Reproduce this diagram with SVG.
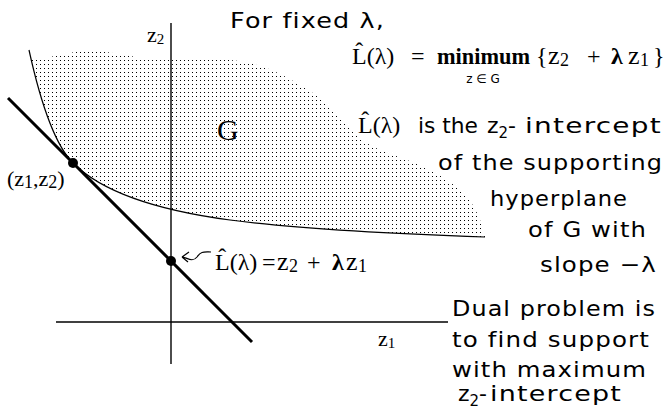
<svg xmlns="http://www.w3.org/2000/svg" width="669" height="410" viewBox="0 0 669 410">
<style>
.sans{font-family:"DejaVu Sans","Liberation Sans",sans-serif;font-size:22px;fill:#000;letter-spacing:1px}
.serif{font-family:"Liberation Serif","DejaVu Serif",serif;font-size:24px;fill:#000}
.sub{font-size:15px}
.ssub{font-size:18px}
.thin{fill:none;stroke:#000;stroke-width:1.2}
.axis{fill:none;stroke:#000;stroke-width:1.4}
.thick{fill:none;stroke:#000;stroke-width:3;stroke-linecap:butt}
</style>
<defs>
<pattern id="dots" patternUnits="userSpaceOnUse" width="4" height="4">
<rect x="0" y="0" width="1" height="1" fill="#000" shape-rendering="crispEdges"/>
</pattern>
</defs>
<rect width="669" height="410" fill="#fff"/>

<g id="region-G">
<path d="M29,50 C40,100 55,145 73,163 C95,185 140,208 230,220 C300,229 400,234 485,237 C482,222 475,205 465,195 C450,180 430,168 407,160 C385,152 365,145 355,134 C340,118 320,95 303,87 C280,72 260,63 230,60 L171,60 C150,59 140,58 125,55 C105,51 80,49 60,55 C45,58 35,60 29,56 Z" fill="url(#dots)"/>
<path class="thin" d="M29,50 C40,100 55,145 73,163 C95,185 140,208 230,220 C300,229 400,234 485,237"/>
<text class="serif" x="217" y="140" style="font-size:30px">G</text>
</g>

<g id="axis-z2">
<line class="axis" x1="171" y1="23" x2="171" y2="364"/>
<text class="serif" x="147" y="42" style="font-size:22px">z<tspan class="sub" dy="2">2</tspan></text>
</g>

<g id="axis-z1">
<line class="axis" x1="56" y1="322" x2="448" y2="322"/>
<text class="serif" x="378" y="346" style="font-size:22px">z<tspan class="sub" dy="2">1</tspan></text>
</g>

<g id="support-line">
<line class="thick" x1="8" y1="98" x2="252" y2="342"/>
</g>

<g id="point-tangent">
<circle cx="73" cy="163" r="5" fill="#000"/>
<text class="serif" x="7" y="186" style="font-size:22px">(z<tspan class="ssub" dy="2">1</tspan><tspan dy="-2">,z</tspan><tspan class="ssub" dy="2">2</tspan><tspan dy="-2">)</tspan></text>
</g>

<g id="point-intercept">
<circle cx="171" cy="261" r="5" fill="#000"/>
<text class="serif" y="270"><tspan x="215">L̂(λ)</tspan><tspan x="262">=</tspan><tspan x="277" style="font-size:26px">z</tspan><tspan class="ssub" x="289" dy="2">2</tspan><tspan x="307" dy="-2">+</tspan><tspan x="332" font-weight="bold">λ</tspan><tspan x="346" style="font-size:26px">z</tspan><tspan class="ssub" x="358" dy="2">1</tspan></text>
</g>

<g id="connectors">
<path class="thin" d="M182,257 L189,252 M182,257 L188,262 M183,257 C189,259 193,262 197,257 C201,251 204,252 211,252"/>
</g>

<g id="definition">
<text class="sans" x="230" y="28" textLength="155" lengthAdjust="spacingAndGlyphs">For fixed  λ,</text>
<text class="serif" y="64"><tspan x="352">L̂(λ)</tspan><tspan x="411">=</tspan></text>
<text class="serif" x="437" y="64" font-weight="bold" textLength="93" lengthAdjust="spacingAndGlyphs">minimum</text>
<text class="serif" y="64"><tspan x="536">{</tspan><tspan x="548" style="font-size:26px">z</tspan><tspan class="ssub" x="560" dy="2">2</tspan><tspan x="587" dy="-2">+</tspan><tspan x="611" font-weight="bold">λ</tspan><tspan x="628" style="font-size:26px">z</tspan><tspan class="ssub" x="640" dy="2">1</tspan><tspan x="653" dy="-2">}</tspan></text>
<text class="sans" x="483" y="83" text-anchor="middle" style="font-size:12px;letter-spacing:0">z ∈ G</text>
</g>

<g id="explanation">
<text class="serif" x="358" y="133">L̂(λ)</text>
<text class="sans" x="418" y="133" textLength="60" lengthAdjust="spacingAndGlyphs" style="letter-spacing:0">is the</text>
<text class="sans" x="487" y="133" style="letter-spacing:0">z<tspan class="sub" dy="5">2</tspan><tspan dy="-5">-</tspan></text>
<text class="sans" x="525" y="133" textLength="137" lengthAdjust="spacingAndGlyphs">intercept</text>
<text class="sans" x="438" y="170" textLength="225" lengthAdjust="spacingAndGlyphs">of the supporting</text>
<text class="sans" x="490" y="206" textLength="138" lengthAdjust="spacingAndGlyphs">hyperplane</text>
<text class="sans" x="528" y="237" textLength="119" lengthAdjust="spacingAndGlyphs">of G with</text>
<text class="sans" x="540" y="272" textLength="117" lengthAdjust="spacingAndGlyphs">slope −λ</text>
</g>

<g id="dual">
<text class="sans" x="452" y="316" textLength="204" lengthAdjust="spacingAndGlyphs">Dual problem is</text>
<text class="sans" x="452" y="347" textLength="198" lengthAdjust="spacingAndGlyphs">to find support</text>
<text class="sans" x="452" y="377" textLength="195" lengthAdjust="spacingAndGlyphs">with maximum</text>
<text class="sans" x="458" y="401" style="letter-spacing:0">z<tspan class="sub" dy="5">2</tspan><tspan dy="-5">-</tspan></text>
<text class="sans" x="490" y="401" textLength="132" lengthAdjust="spacingAndGlyphs">intercept</text>
</g>
</svg>
